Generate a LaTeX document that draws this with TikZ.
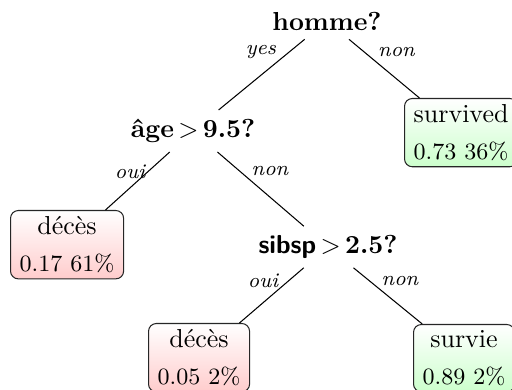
\documentclass[tikz,border=0pt]{standalone}
\usepackage{fontspec}
\begin{document}
\begin{tikzpicture}[x=0.3846pt,y=-0.3846pt,
  q/.style={font=\bfseries, inner sep=3.33pt},
  leaf/.style={draw=black!85, rounded corners=3pt, align=center, inner xsep=3.5pt, inner ysep=2.3pt, anchor=north west},
  deathleaf/.style={leaf, top color=white, bottom color=red!20},
  liveleaf/.style={leaf, top color=white, bottom color=green!20},
  lab/.style={font=\footnotesize\itshape, inner sep=0pt},
  edge/.style={draw=black, line width=0.4pt}]
\useasboundingbox (0,0) rectangle (512,390);
\node[q] (homme) at (327,21) {homme?};
\node[q] (age) at (193,131) {âge$\mkern3mu>\mkern3mu$9.5?};
\node[q] (sibsp) at (328,247) {\textsf{sibsp}$\mkern3mu>\mkern3mu$2.5?};
\node[liveleaf] (surv1) at (404,98) {survived\\[2.2pt]{\small 0.73 36\%}};
\node[deathleaf] (dec1) at (10,210) {décès\\[2.2pt]{\small 0.17 61\%}};
\node[deathleaf] (dec2) at (148,323) {décès\\[2.2pt]{\small 0.05 2\%}};
\node[liveleaf] (surv2) at (413,324) {survie\\[2.2pt]{\small 0.89 2\%}};
\draw[edge] (homme) -- (age);
\draw[edge] (homme) -- (surv1);
\draw[edge] (age) -- (dec1);
\draw[edge] (age) -- (sibsp);
\draw[edge] (sibsp) -- (dec2);
\draw[edge] (sibsp) -- (surv2);
\node[lab] (l1) at (261,52.5) {yes};
\node[lab] (l2) at (396.5,52) {non};
\node[lab] (l3) at (130,171.5) {oui};
\node[lab] (l4) at (270,171.5) {non};
\node[lab] (l5) at (263,281) {oui};
\node[lab] (l6) at (400,281) {non};
\end{tikzpicture}
\end{document}
